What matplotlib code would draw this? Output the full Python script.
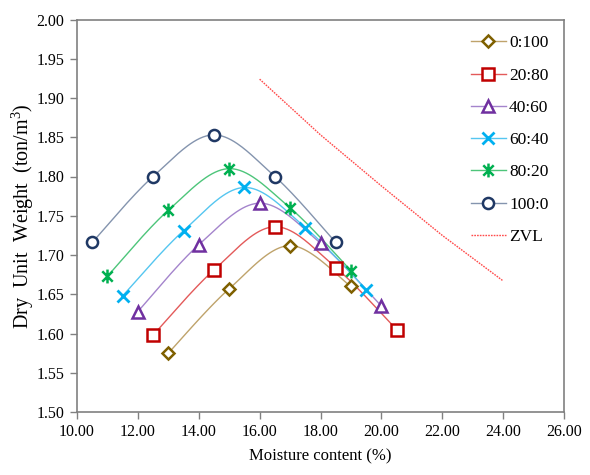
import numpy as np
import matplotlib
matplotlib.use("Agg")
import matplotlib.pyplot as plt
from matplotlib.path import Path
from matplotlib.lines import Line2D

plt.rcParams['font.family'] = ['Liberation Serif', 'DejaVu Serif']
plt.rcParams['mathtext.fontset'] = 'custom'
plt.rcParams['mathtext.rm'] = 'Liberation Serif'

# Compaction test results: moisture content (%) vs dry unit weight (ton/m3)
labels = ["0:100", "20:80", "40:60", "60:40", "80:20", "100:0"]

w_0_100 = [13.0, 15.0, 17.0, 19.0]
g_0_100 = [1.575, 1.657, 1.712, 1.660]

w_20_80 = [12.5, 14.5, 16.5, 18.5, 20.5]
g_20_80 = [1.598, 1.681, 1.736, 1.684, 1.605]

w_40_60 = [12.0, 14.0, 16.0, 18.0, 20.0]
g_40_60 = [1.628, 1.713, 1.766, 1.715, 1.635]

w_60_40 = [11.5, 13.5, 15.5, 17.5, 19.5]
g_60_40 = [1.648, 1.731, 1.786, 1.735, 1.656]

w_80_20 = [11.0, 13.0, 15.0, 17.0, 19.0]
g_80_20 = [1.673, 1.757, 1.810, 1.760, 1.680]

w_100_0 = [10.5, 12.5, 14.5, 16.5, 18.5]
g_100_0 = [1.716, 1.800, 1.853, 1.800, 1.716]

# zero air voids line
w_zvl = [16.0, 18.0, 20.0, 22.0, 24.0]
g_zvl = [1.924, 1.853, 1.788, 1.725, 1.667]

x_ticks = [10, 12, 14, 16, 18, 20, 22, 24, 26]
y_ticks = [1.50, 1.55, 1.60, 1.65, 1.70, 1.75, 1.80, 1.85, 1.90, 1.95, 2.00]


def smooth(xs, ys, n=40):
    """Catmull-Rom style Bezier smoothing through the points."""
    p = np.column_stack([xs, ys]).astype(float)
    ext = np.vstack([p[0], p, p[-1]])
    out = []
    for i in range(len(p) - 1):
        p0, p1, p2, p3 = ext[i], ext[i + 1], ext[i + 2], ext[i + 3]
        c1 = p1 + (p2 - p0) / 6.0
        c2 = p2 - (p3 - p1) / 6.0
        t = np.linspace(0, 1, n)[:, None]
        seg = ((1 - t) ** 3) * p1 + 3 * ((1 - t) ** 2) * t * c1 \
            + 3 * (1 - t) * t ** 2 * c2 + t ** 3 * p2
        out.append(seg if i == 0 else seg[1:])
    s = np.vstack(out)
    return s[:, 0], s[:, 1]


# asterisk marker: an x with a vertical bar
asterisk = Path(
    [(-0.45, -0.45), (0.45, 0.45), (-0.45, 0.45), (0.45, -0.45), (0, -0.6), (0, 0.6)],
    [Path.MOVETO, Path.LINETO, Path.MOVETO, Path.LINETO, Path.MOVETO, Path.LINETO],
)

series = [
    (w_0_100, g_0_100, "#BFA36B", "#7F6000", "D", 6.5),
    (w_20_80, g_20_80, "#E35A5A", "#C00000", "s", 8),
    (w_40_60, g_40_60, "#A484CC", "#7030A0", "^", 8.5),
    (w_60_40, g_60_40, "#55C6F0", "#00B0F0", "x", 8),
    (w_80_20, g_80_20, "#4DC57A", "#00B050", asterisk, 10),
    (w_100_0, g_100_0, "#8494AE", "#1F3864", "o", 8),
]

fig = plt.figure(figsize=(5.9, 4.75), dpi=100)
ax = fig.add_axes([77 / 590, 1 - 412 / 475, (564 - 77) / 590, (412 - 19.5) / 475])

handles = []
for (xs, ys, lc, mc, mk, ms), lab in zip(series, labels):
    sx, sy = smooth(xs, ys)
    ax.plot(sx, sy, color=lc, lw=1.0, zorder=2)
    mew = 2.0 if mk == "x" else 1.8
    mfc = "none" if mk == "x" else "white"
    ax.plot(xs, ys, ls="none", marker=mk, ms=ms, mfc=mfc, mec=mc, mew=mew, zorder=3)
    handles.append(Line2D([], [], color=lc, lw=1.0, marker=mk, ms=ms,
                          mfc=mfc, mec=mc, mew=mew))

ax.plot(w_zvl, g_zvl, color="#FF4B4B", lw=1.0, ls=(0, (1.2, 0.8)), zorder=2)
handles.append(Line2D([], [], color="#FF4B4B", lw=1.0, ls=(0, (1.2, 0.8))))

ax.set_xlim(10, 26)
ax.set_ylim(1.5, 2.0)
ax.set_xticks(x_ticks)
ax.set_xticklabels([f"{v:.2f}" for v in x_ticks])
ax.set_yticks(y_ticks)
ax.set_yticklabels([f"{v:.2f}" for v in y_ticks])
ax.tick_params(direction="out", length=5, width=1, color="#808080", labelsize=11.5,
               labelcolor="black", pad=4)
for sp in ax.spines.values():
    sp.set_color("#808080")
    sp.set_linewidth(1.2)

ax.set_xlabel("Moisture content (%)", fontsize=12, labelpad=6)
ax.set_ylabel("Dry  Unit  Weight  (ton/m$^3$)", fontsize=14.5, labelpad=0.5)

leg = ax.legend(handles, labels + ["ZVL"], loc="upper right", bbox_to_anchor=(1.0, 1.0),
                frameon=False, fontsize=12.5, handlelength=2.0, labelspacing=0.93,
                handletextpad=0.2, borderaxespad=0.5)

fig.savefig("out.png", dpi=100)
